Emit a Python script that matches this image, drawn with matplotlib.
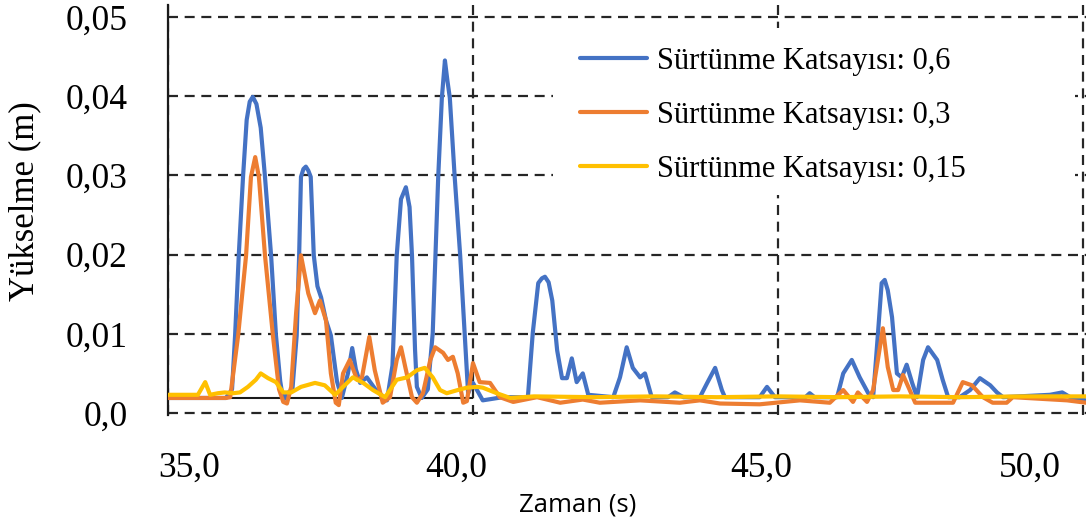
import matplotlib
matplotlib.use("Agg")
import matplotlib.pyplot as plt
from matplotlib.patches import Rectangle

# ---------------- data ----------------
blue_t = [35.00, 35.95, 36.05, 36.10, 36.16, 36.23, 36.29, 36.34, 36.39, 36.45, 36.52, 36.59, 36.69, 36.77,
          36.84, 36.89, 36.96, 37.04, 37.11, 37.15, 37.18, 37.22, 37.26, 37.30, 37.34, 37.39, 37.45, 37.51,
          37.59, 37.67, 37.77, 37.85, 37.95, 38.02, 38.08, 38.15, 38.26, 38.40, 38.59, 38.68, 38.75, 38.82,
          38.90, 38.96, 39.00, 39.05, 39.08, 39.16, 39.26, 39.34, 39.43, 39.49, 39.54, 39.58, 39.62, 39.70,
          39.79, 39.87, 39.92, 40.00, 40.16, 40.49, 40.90, 40.98, 41.07, 41.13, 41.18, 41.24, 41.30, 41.38,
          41.46, 41.54, 41.62, 41.70, 41.80, 41.89, 42.30, 42.41, 42.52, 42.62, 42.74, 42.82, 42.93, 43.20,
          43.31, 43.45, 43.72, 43.84, 43.97, 44.08, 44.13, 44.70, 44.82, 44.95, 45.45, 45.52, 45.60, 45.97,
          46.07, 46.21, 46.34, 46.48, 46.56, 46.64, 46.70, 46.75, 46.80, 46.87, 46.95, 47.03, 47.11, 47.20,
          47.28, 47.38, 47.46, 47.61, 47.70, 47.79, 47.98, 48.15, 48.31, 48.48, 48.59, 48.69, 49.46, 49.66,
          49.79, 50.05]
blue_v = [0.0019, 0.0019, 0.0030, 0.0098, 0.0199, 0.0298, 0.0370, 0.0393, 0.0399, 0.0390, 0.0360, 0.0298,
          0.0199, 0.0098, 0.0040, 0.0016, 0.0025, 0.0030, 0.0098, 0.0199, 0.0298, 0.0308, 0.0311, 0.0306,
          0.0298, 0.0199, 0.0160, 0.0146, 0.0117, 0.0098, 0.0040, 0.0019, 0.0050, 0.0082, 0.0055, 0.0038,
          0.0045, 0.0030, 0.0016, 0.0060, 0.0199, 0.0270, 0.0285, 0.0260, 0.0199, 0.0080, 0.0033, 0.0019,
          0.0030, 0.0101, 0.0298, 0.0398, 0.0445, 0.0420, 0.0398, 0.0298, 0.0199, 0.0092, 0.0025, 0.0038,
          0.0016, 0.0020, 0.0020, 0.0101, 0.0164, 0.0170, 0.0172, 0.0165, 0.0142, 0.0079, 0.0044, 0.0044,
          0.0069, 0.0039, 0.0050, 0.0023, 0.0020, 0.0045, 0.0083, 0.0057, 0.0045, 0.0050, 0.0020, 0.0020,
          0.0026, 0.0020, 0.0020, 0.0038, 0.0057, 0.0029, 0.0020, 0.0020, 0.0033, 0.0020, 0.0020, 0.0025,
          0.0020, 0.0020, 0.0050, 0.0067, 0.0045, 0.0025, 0.0020, 0.0101, 0.0164, 0.0168, 0.0155, 0.0121,
          0.0050, 0.0045, 0.0061, 0.0038, 0.0020, 0.0067, 0.0083, 0.0067, 0.0042, 0.0020, 0.0020, 0.0029,
          0.0044, 0.0035, 0.0026, 0.0020, 0.0023, 0.0026, 0.0020, 0.0016]

orange_t = [35.00, 35.95, 36.02, 36.15, 36.28, 36.36, 36.43, 36.49, 36.59, 36.72, 36.82, 36.89, 36.95, 37.02,
            37.10, 37.18, 37.30, 37.41, 37.49, 37.59, 37.67, 37.75, 37.80, 37.87, 37.98, 38.10, 38.18, 38.30,
            38.39, 38.52, 38.64, 38.75, 38.82, 38.89, 39.00, 39.08, 39.18, 39.30, 39.38, 39.51, 39.59, 39.67,
            39.75, 39.84, 39.90, 40.00, 40.11, 40.28, 40.44, 40.66, 41.05, 41.43, 41.80, 42.08, 42.74, 43.39,
            43.72, 44.05, 44.70, 45.36, 45.85, 46.07, 46.23, 46.31, 46.46, 46.56, 46.72, 46.80, 46.89, 46.97,
            47.05, 47.16, 47.25, 47.87, 48.03, 48.18, 48.36, 48.52, 48.75, 48.85, 49.74, 50.05]
orange_v = [0.0019, 0.0019, 0.0020, 0.0098, 0.0199, 0.0298, 0.0323, 0.0298, 0.0199, 0.0098, 0.0030, 0.0014,
            0.0012, 0.0033, 0.0126, 0.0199, 0.0151, 0.0126, 0.0142, 0.0117, 0.0050, 0.0013, 0.0010, 0.0050,
            0.0067, 0.0042, 0.0045, 0.0096, 0.0054, 0.0013, 0.0020, 0.0067, 0.0083, 0.0058, 0.0020, 0.0013,
            0.0025, 0.0067, 0.0083, 0.0076, 0.0067, 0.0071, 0.0050, 0.0013, 0.0015, 0.0063, 0.0039, 0.0038,
            0.0020, 0.0014, 0.0020, 0.0013, 0.0017, 0.0013, 0.0016, 0.0013, 0.0016, 0.0012, 0.0011, 0.0016,
            0.0013, 0.0029, 0.0014, 0.0026, 0.0014, 0.0029, 0.0107, 0.0058, 0.0029, 0.0029, 0.0048, 0.0029,
            0.0013, 0.0013, 0.0039, 0.0035, 0.0020, 0.0013, 0.0013, 0.0020, 0.0016, 0.0013]

yellow_t = [35.00, 35.49, 35.61, 35.69, 35.82, 35.93, 36.07, 36.18, 36.31, 36.44, 36.52, 36.64, 36.77, 36.89,
            37.02, 37.18, 37.41, 37.57, 37.74, 37.87, 38.03, 38.20, 38.36, 38.56, 38.75, 38.92, 39.08, 39.21,
            39.34, 39.46, 39.57, 39.75, 39.90, 40.07, 40.16, 40.39, 40.61, 41.00, 42.00, 43.00, 44.00, 45.00,
            46.00, 47.00, 48.00, 49.00, 50.05]
yellow_v = [0.0023, 0.0023, 0.0039, 0.0023, 0.0025, 0.0026, 0.0025, 0.0026, 0.0033, 0.0042, 0.0050, 0.0044,
            0.0039, 0.0026, 0.0026, 0.0033, 0.0038, 0.0035, 0.0023, 0.0033, 0.0045, 0.0038, 0.0029, 0.0020,
            0.0042, 0.0045, 0.0054, 0.0057, 0.0045, 0.0029, 0.0025, 0.0029, 0.0032, 0.0033, 0.0032, 0.0025,
            0.0019, 0.0021, 0.0020, 0.0021, 0.0020, 0.0021, 0.0020, 0.0021, 0.0020, 0.0021, 0.0021]

series_labels = ["Sürtünme Katsayısı: 0,6", "Sürtünme Katsayısı: 0,3", "Sürtünme Katsayısı: 0,15"]
series_colors = ["#4472C4", "#ED7D31", "#FFC000"]

y_ticks = [0.0, 0.01, 0.02, 0.03, 0.04, 0.05]
y_tick_labels = ["0,0", "0,01", "0,02", "0,03", "0,04", "0,05"]
x_grid = [35, 40, 45, 50]
x_tick_labels = ["35,0", "40,0", "45,0", "50,0"]
x_label_pos = [35.35, 39.73, 44.73, 49.13]   # where the labels sit in the picture
ref_line_level = 0.0019
ref_line_span = (35.0, 40.0)

# ---------------- figure ----------------
W, H = 1086, 528
fig = plt.figure(figsize=(W / 100, H / 100), dpi=100)
ax_left, ax_right, ax_top, ax_bottom = 168, 1086, 5, 415.4
ax = fig.add_axes([ax_left / W, 1 - ax_bottom / H, (ax_right - ax_left) / W, (ax_bottom - ax_top) / H])

serif = "Liberation Serif"

lines = []
for t, v, c, lab in zip([blue_t, orange_t, yellow_t], [blue_v, orange_v, yellow_v], series_colors, series_labels):
    ln, = ax.plot(t, v, color=c, lw=3.0, label=lab, zorder=3,
                  solid_joinstyle="round", solid_capstyle="round")
    lines.append(ln)

ax.hlines(ref_line_level, *ref_line_span, color="#1a1a1a", lw=1.5, zorder=2)

ax.set_xlim(35, 50.05)
ax.set_ylim(-0.0003, 0.0515)

ax.set_yticks(y_ticks)
ax.set_yticklabels(y_tick_labels, fontfamily=serif, fontsize=25.5)
ax.set_xticks(x_grid)
ax.set_xticklabels([])
ax.set_xticks(x_label_pos, minor=True)
ax.set_xticklabels(x_tick_labels, minor=True, fontfamily=serif, fontsize=25.5)
ax.tick_params(axis="both", which="both", length=0)
ax.tick_params(axis="y", pad=29)
ax.tick_params(axis="x", which="minor", pad=26)

ax.set_axisbelow(True)
ax.grid(True, which="major", color="#262626", linestyle=(0, (4.5, 3)), linewidth=1.6)
for s in ["top", "right", "bottom"]:
    ax.spines[s].set_visible(False)
ax.spines["left"].set_linewidth(1.6)
ax.spines["left"].set_color("#1a1a1a")

# white area behind the legend
ax.add_patch(Rectangle((0.419, 0.537), 0.569, 0.407, transform=ax.transAxes,
                       facecolor="white", edgecolor="none", zorder=1))

leg = ax.legend(handles=lines, loc="upper left", bbox_to_anchor=(580 / W, 1 - 47 / H),
                bbox_transform=fig.transFigure, frameon=False,
                prop={"family": serif, "size": 22}, handlelength=2.2, handletextpad=0.33,
                labelspacing=0.82, borderpad=0, borderaxespad=0)
for h in leg.legend_handles:
    h.set_linewidth(3.0)

fig.text(25 / W, 1 - 201 / H, "Yükselme (m)", rotation=90, ha="center", va="center",
         fontfamily=serif, fontsize=25)
fig.text(578 / W, 1 - 505 / H, "Zaman (s)", ha="center", va="center",
         fontfamily="Open Sans", fontsize=18.5)

fig.savefig("out.png", dpi=100)
